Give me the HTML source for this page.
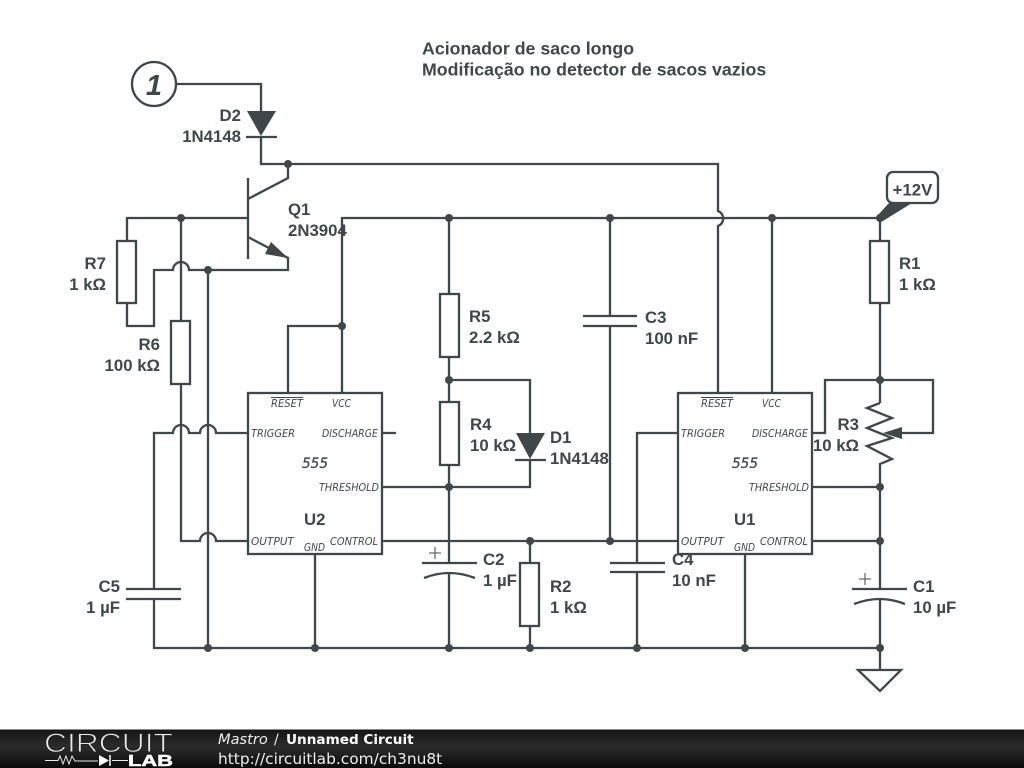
<!DOCTYPE html>
<html><head><meta charset="utf-8"><style>
html,body{margin:0;padding:0;background:#fff}
svg{display:block}
.w{fill:none;stroke:#3f474b;stroke-width:2.300}
.b{font:bold 16.800px "Liberation Sans",sans-serif;fill:#3f474b}
.t{font:bold 17.750px "Liberation Sans",sans-serif;fill:#3f474b}
.r{text-anchor:end}
.p{font:italic 11px "DejaVu Sans",sans-serif;fill:#3f474b}
.n{font:italic 14.500px "DejaVu Sans",sans-serif;fill:#3f474b;stroke:#3f474b;stroke-width:.3}
circle.d{fill:#3f474b;stroke:none}
</style></head><body>
<svg width="1024" height="768" viewBox="0 0 1024 768" xmlns="http://www.w3.org/2000/svg">
<defs><linearGradient id="g" x1="0" y1="0" x2="0" y2="1"><stop offset="0" stop-color="#141414"/><stop offset="0.45" stop-color="#2c2c2c"/><stop offset="1" stop-color="#0a0a0a"/></linearGradient></defs>
<rect width="1024" height="768" fill="#fff"/>

<text class="t" x="422" y="54.500">Acionador de saco longo</text>
<text class="t" x="422" y="75.500">Modificação no detector de sacos vazios</text>

<circle class="w" cx="154" cy="84" r="22"/>
<text x="154" y="95" text-anchor="middle" style="font:italic bold 29px 'Liberation Sans',sans-serif;fill:#3f474b">1</text>

<path class="w" d="M176 84H261V111M261 137V164H718V211A8 8 0 0 1 718 226V393"/>
<path d="M247 111H276L261 136Z" fill="#3f474b"/>
<path class="w" d="M246 137H277"/>
<path class="w" d="M288 164V178L248 199M248 178V259M248 218H127V241M248 237L288 258V270H189A8 8 0 0 0 173 270H154V326H127V303"/>
<path d="M288 258L271 242L265 254Z" fill="#3f474b"/>
<rect class="w" x="117" y="241" width="19" height="62" fill="none"/>
<path class="w" d="M181 218V321M181 384V541H200A8 8 0 0 1 216 541H247"/>
<rect class="w" x="171" y="321" width="19" height="63"/>
<path class="w" d="M208 270V648"/>
<path class="w" d="M247 433H216A8 8 0 0 0 200 433H189A8 8 0 0 0 173 433H154V589M154 599V648H880"/>
<path class="w" d="M126 589H181M126 599H181"/>

<rect class="w" x="248" y="393" width="134" height="161"/>
<rect class="w" x="678" y="393" width="134" height="161"/>
<path class="w" d="M288 393V326H342M342 393V218H880"/>
<path class="w" d="M382 433H396M315 554V648M745 554V648"/>
<path class="w" d="M449 218V294M449 357V402M449 465V563M449 572V648"/>
<rect class="w" x="440" y="294" width="19" height="63"/>
<rect class="w" x="440" y="402" width="19" height="63"/>
<path class="w" d="M449 380H530V433M530 460V487H382"/>
<path d="M516 433H545L530 459Z" fill="#3f474b"/>
<path class="w" d="M515 460H546"/>
<path class="w" d="M382 541H678"/>
<path class="w" d="M422 563H477M424 578Q449 568 475 578"/>
<path d="M429 553H441M435 547V559" fill="none" stroke="#3f474b" stroke-width="1"/>
<path class="w" d="M530 541V563M530 626V648"/>
<rect class="w" x="520" y="563" width="19" height="63"/>
<path class="w" d="M610 218V316M610 326V541M583 316H637M583 326H637"/>
<path class="w" d="M678 433H637V563M637 572V648M610 563H665M610 572H665"/>
<path class="w" d="M772 218V393"/>
<path class="w" d="M880 218V241M880 303V403"/>
<rect class="w" x="870" y="241" width="19" height="62"/>
<path class="w" d="M812 433H825V380H933V433H893"/>
<path class="w" d="M880 403L867 408L892 418L867 428L892 438L867 446L892 459L880 464V589M880 599V670"/>
<path d="M883 433L902 427V439Z" fill="#3f474b"/>
<path class="w" d="M812 487H880M812 541H880"/>
<path class="w" d="M852 589H907M854 604Q880 594 905 604"/>
<path d="M859 579H871M865 573V585" fill="none" stroke="#3f474b" stroke-width="1"/>
<path class="w" d="M858 670H901L880 691Z"/>

<path d="M878 215L883 221L912 203H889Z" fill="#3f474b"/>
<rect class="w" x="887" y="172" width="51" height="31" rx="6" style="fill:#fff"/>
<text class="b" x="912.500" y="195.500" text-anchor="middle">+12V</text>

<g>
<circle class="d" cx="288" cy="164" r="4"/><circle class="d" cx="181" cy="218" r="4"/><circle class="d" cx="208" cy="270" r="4"/><circle class="d" cx="342" cy="326" r="4"/>
<circle class="d" cx="449" cy="218" r="4"/><circle class="d" cx="610" cy="218" r="4"/><circle class="d" cx="772" cy="218" r="4"/><circle class="d" cx="880" cy="218" r="4"/>
<circle class="d" cx="449" cy="380" r="4"/><circle class="d" cx="880" cy="380" r="4"/><circle class="d" cx="449" cy="487" r="4"/><circle class="d" cx="880" cy="487" r="4"/>
<circle class="d" cx="530" cy="541" r="4"/><circle class="d" cx="610" cy="541" r="4"/><circle class="d" cx="880" cy="541" r="4"/>
<circle class="d" cx="208" cy="648" r="4"/><circle class="d" cx="315" cy="648" r="4"/><circle class="d" cx="449" cy="648" r="4"/><circle class="d" cx="530" cy="648" r="4"/><circle class="d" cx="637" cy="648" r="4"/><circle class="d" cx="745" cy="648" r="4"/><circle class="d" cx="880" cy="648" r="4"/>
</g>

<text class="b r" x="241" y="121">D2</text><text class="b r" x="241" y="142">1N4148</text>
<text class="b" x="288" y="215">Q1</text><text class="b" x="288" y="236">2N3904</text>
<text class="b r" x="106" y="269">R7</text><text class="b r" x="106" y="290">1 kΩ</text>
<text class="b r" x="160" y="350">R6</text><text class="b r" x="160" y="371">100 kΩ</text>
<text class="b" x="469" y="322">R5</text><text class="b" x="469" y="343">2.2 kΩ</text>
<text class="b" x="470" y="430">R4</text><text class="b" x="470" y="451">10 kΩ</text>
<text class="b" x="550" y="443">D1</text><text class="b" x="550" y="464">1N4148</text>
<text class="b" x="483" y="565">C2</text><text class="b" x="483" y="586">1 µF</text>
<text class="b" x="550" y="592">R2</text><text class="b" x="550" y="613">1 kΩ</text>
<text class="b" x="645" y="323">C3</text><text class="b" x="645" y="344">100 nF</text>
<text class="b" x="672" y="565">C4</text><text class="b" x="672" y="586">10 nF</text>
<text class="b" x="899" y="269">R1</text><text class="b" x="899" y="290">1 kΩ</text>
<text class="b r" x="859" y="430">R3</text><text class="b r" x="859" y="451">10 kΩ</text>
<text class="b" x="913" y="592">C1</text><text class="b" x="913" y="613">10 µF</text>
<text class="b r" x="120" y="592">C5</text><text class="b r" x="120" y="613">1 µF</text>

<g id="u2">
<text class="p" x="271" y="407" textLength="32" lengthAdjust="spacingAndGlyphs">RESET</text><path d="M271 397.500H303" stroke="#3f474b" stroke-width="1"/>
<text class="p" x="332" y="407" textLength="19" lengthAdjust="spacingAndGlyphs">VCC</text>
<text class="p" x="251" y="437" textLength="44" lengthAdjust="spacingAndGlyphs">TRIGGER</text>
<text class="p" x="322" y="437" textLength="56" lengthAdjust="spacingAndGlyphs">DISCHARGE</text>
<text class="n" x="302" y="468" textLength="26" lengthAdjust="spacingAndGlyphs">555</text>
<text class="p" x="319" y="491" textLength="60" lengthAdjust="spacingAndGlyphs">THRESHOLD</text>
<text class="b" x="304" y="525">U2</text>
<text class="p" x="251" y="545" textLength="43" lengthAdjust="spacingAndGlyphs">OUTPUT</text>
<text class="p" x="330" y="545" textLength="48" lengthAdjust="spacingAndGlyphs">CONTROL</text>
<text class="p" x="304" y="551" textLength="21" lengthAdjust="spacingAndGlyphs">GND</text>
</g>
<g>
<text class="p" x="701" y="407" textLength="32" lengthAdjust="spacingAndGlyphs">RESET</text><path d="M701 397.500H733" stroke="#3f474b" stroke-width="1"/>
<text class="p" x="762" y="407" textLength="19" lengthAdjust="spacingAndGlyphs">VCC</text>
<text class="p" x="681" y="437" textLength="44" lengthAdjust="spacingAndGlyphs">TRIGGER</text>
<text class="p" x="752" y="437" textLength="56" lengthAdjust="spacingAndGlyphs">DISCHARGE</text>
<text class="n" x="732" y="468" textLength="26" lengthAdjust="spacingAndGlyphs">555</text>
<text class="p" x="749" y="491" textLength="60" lengthAdjust="spacingAndGlyphs">THRESHOLD</text>
<text class="b" x="734" y="525">U1</text>
<text class="p" x="681" y="545" textLength="43" lengthAdjust="spacingAndGlyphs">OUTPUT</text>
<text class="p" x="760" y="545" textLength="48" lengthAdjust="spacingAndGlyphs">CONTROL</text>
<text class="p" x="734" y="551" textLength="21" lengthAdjust="spacingAndGlyphs">GND</text>
</g>

<rect x="0" y="729" width="1024" height="39" fill="url(#g)"/>
<rect x="0" y="729" width="1024" height="1" fill="#8a8a8a"/>
<text x="44" y="752" textLength="129" lengthAdjust="spacingAndGlyphs" style="font:26.500px 'Liberation Sans',sans-serif;fill:#e8e8e8;stroke:#222;stroke-width:.9">CIRCUIT</text>
<path d="M45 760.500H58L60 756L63 764L66 756L69 764L72 756L75 761H98M112 760.500H128" fill="none" stroke="#e8e8e8" stroke-width="1"/>
<path d="M99 755V766L109 760.500Z" fill="#fff"/><path d="M110 755V766" stroke="#fff" stroke-width="1.500"/>
<text x="128" y="766" textLength="45" lengthAdjust="spacingAndGlyphs" style="font:bold 15.300px 'Liberation Sans',sans-serif;fill:#fff;stroke:#fff;stroke-width:.5">LAB</text>
<text x="218" y="744" style="font:italic 14.600px 'DejaVu Sans',sans-serif;fill:#eee">Mastro</text>
<text x="274" y="744" style="font:14px 'DejaVu Sans',sans-serif;fill:#eee">/</text>
<text x="286" y="744" style="font:bold 13.600px 'DejaVu Sans',sans-serif;fill:#fff">Unnamed Circuit</text>
<text x="218" y="764" style="font:15.400px 'DejaVu Sans',sans-serif;fill:#eee">http://circuitlab.com/ch3nu8t</text>
</svg>
</body></html>
